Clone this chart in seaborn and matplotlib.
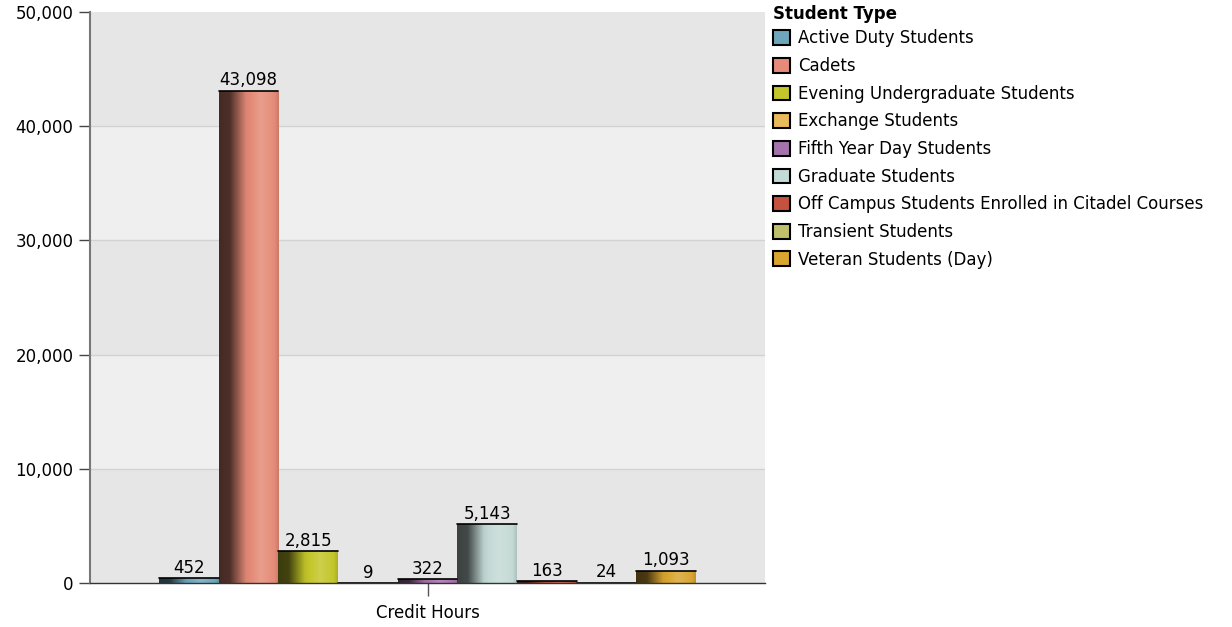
import numpy as np
import pandas as pd
import matplotlib
matplotlib.use('Agg')
import matplotlib.pyplot as plt
import seaborn as sns
from matplotlib.colors import to_rgb

# data
student_types = ['Active Duty Students', 'Cadets', 'Evening Undergraduate Students',
                 'Exchange Students', 'Fifth Year Day Students', 'Graduate Students',
                 'Off Campus Students Enrolled in Citadel Courses', 'Transient Students',
                 'Veteran Students (Day)']
credit_hours = [452, 43098, 2815, 9, 322, 5143, 163, 24, 1093]
bar_colors = ['#6fa6bb', '#e58b78', '#c4c62a', '#e9b95c', '#a573ab',
              '#c4dad6', '#c5523f', '#bfc06c', '#d9a531']
y_ticks = [0, 10000, 20000, 30000, 40000, 50000]

df = pd.DataFrame({'measure': 'Credit Hours', 'Student Type': student_types,
                   'value': credit_hours})

sns.set_style('white')
plt.rcParams['font.family'] = ['DejaVu Sans']
plt.rcParams['text.color'] = 'black'
plt.rcParams['xtick.color'] = 'black'
plt.rcParams['ytick.color'] = 'black'

fig, ax = plt.subplots(figsize=(12.32, 6.27), dpi=100)
fig.subplots_adjust(left=0.073, right=0.621, top=0.981, bottom=0.07)

# banded background
ax.set_facecolor('#efefef')
for i in range(len(y_ticks) - 1):
    if i % 2 == 0:
        ax.axhspan(y_ticks[i], y_ticks[i + 1], color='#e6e6e6', zorder=0, lw=0)
for t in y_ticks[1:-1]:
    ax.axhline(t, color='#d2d2d2', lw=1, zorder=0.5)

sns.barplot(data=df, x='measure', y='value', hue='Student Type',
            palette=bar_colors, hue_order=student_types, ax=ax,
            saturation=1, edgecolor='none', linewidth=0, zorder=2)

# gradient shading on each bar (dark left -> light right)
xs = np.linspace(0, 1, 200)
prof = np.interp(xs, [0, 0.18, 0.45, 0.7, 0.93, 1.0],
                 [0.3, 0.34, 0.95, 1.1, 1.0, 0.88])
bar_patches = [cont.patches[0] for cont in ax.containers]
for patch, col in zip(bar_patches, bar_colors):
    x0, y0 = patch.get_x(), patch.get_y()
    w, h = patch.get_width(), patch.get_height()
    if h <= 0:
        continue
    c = np.array(to_rgb(col))
    img = np.zeros((1, len(xs), 3))
    for j, p in enumerate(prof):
        if p <= 1:
            img[0, j] = c * p
        else:
            img[0, j] = c + (1 - c) * (p - 1) * 1.6
    img = np.clip(img, 0, 1)
    im = ax.imshow(img, extent=[x0, x0 + w, y0, y0 + h], aspect='auto',
                   zorder=2.5, interpolation='bilinear')
    im.set_clip_path(patch)
    ax.plot([x0, x0 + w], [y0 + h, y0 + h], color='black', lw=1.2, zorder=3)

for cont in ax.containers:
    ax.bar_label(cont, labels=[f'{v:,.0f}' for v in cont.datavalues],
                 padding=1, fontsize=12, color='black')

ax.set_xlim(-0.503, 0.503)
ax.set_ylim(0, 50000)
ax.set_yticks(y_ticks)
ax.set_yticklabels([f'{t:,}' for t in y_ticks], fontsize=12)
ax.tick_params(axis='x', labelsize=12, length=9, width=1, color='#555555', pad=6,
               bottom=True)
ax.tick_params(axis='y', length=8, width=1, color='#444444', pad=4, left=True)
ax.set_xlabel('')
ax.set_ylabel('')
for s in ['top', 'right']:
    ax.spines[s].set_visible(False)
ax.spines['left'].set_color('#777777')
ax.spines['left'].set_linewidth(1.5)
ax.spines['bottom'].set_color('#333333')
ax.spines['bottom'].set_linewidth(1)
ax.spines['left'].set_zorder(4)
ax.spines['bottom'].set_zorder(4)

sns.move_legend(ax, 'upper left', bbox_to_anchor=(770 / 1232, 1 - 26 / 627),
                bbox_transform=fig.transFigure, frameon=False, title=None,
                fontsize=12, labelspacing=0.58, handlelength=1.0, handleheight=1.0,
                handletextpad=0.5, borderpad=0.2, borderaxespad=0)
leg = ax.get_legend()
for hnd in leg.legend_handles:
    hnd.set_edgecolor('black')
    hnd.set_linewidth(1.5)
fig.text(773 / 1232, 1 - 14 / 627, 'Student Type', fontsize=12, fontweight='bold',
         ha='left', va='center')

fig.savefig('out.png', dpi=100)
